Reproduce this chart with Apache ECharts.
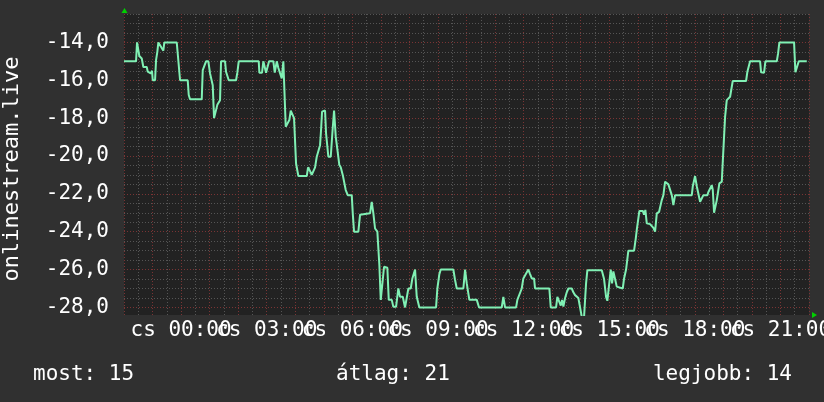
<!DOCTYPE html>
<html>
<head>
<meta charset="utf-8">
<script src="https://cdn.jsdelivr.net/npm/echarts@6.0.0/dist/echarts.min.js"></script>
<style>
  html, body { margin: 0; padding: 0; background: #303030; }
  #main { width: 824px; height: 402px; }
</style>
</head>
<body>
<div id="main"></div>
<script>
// hour of day (-1 = 23:00 the day before)
var times = [-1.0, -0.578, -0.543, -0.463, -0.378, -0.322, -0.263, -0.203, -0.168, -0.112,
  -0.063, -0.018, 0.007, 0.088, 0.123, 0.168, 0.203, 0.263, 0.322, 0.378,
  0.413, 0.848, 0.883, 0.939, 0.964, 1.233, 1.268, 1.314, 1.724, 1.759,
  1.815, 1.875, 1.955, 2.015, 2.074, 2.109, 2.155, 2.225, 2.270, 2.320,
  2.365, 2.400, 2.540, 2.575, 2.621, 2.670, 2.926, 2.971, 3.020, 3.721,
  3.742, 3.837, 3.882, 3.942, 3.977, 4.022, 4.082, 4.233, 4.282, 4.327,
  4.352, 4.408, 4.467, 4.527, 4.583, 4.632, 4.667, 4.737, 4.793, 4.842,
  4.912, 4.958, 5.028, 5.109, 5.403, 5.449, 5.519, 5.578, 5.634, 5.694,
  5.753, 5.809, 5.869, 5.904, 5.939, 6.044, 6.079, 6.160, 6.244, 6.300,
  6.360, 6.419, 6.475, 6.545, 6.594, 6.664, 6.720, 6.769, 6.840, 6.980,
  7.015, 7.060, 7.211, 7.271, 7.330, 7.621, 7.680, 7.737, 7.796, 7.877,
  7.947, 7.996, 8.066, 8.111, 8.227, 8.276, 8.381, 8.437, 8.532, 8.612,
  8.672, 8.767, 8.847, 8.907, 8.963, 9.047, 9.103, 9.198, 9.257, 9.348,
  9.933, 9.979, 10.049, 10.098, 10.540, 10.599, 10.659, 10.890, 10.950, 11.009,
  11.100, 11.360, 11.440, 12.235, 12.291, 12.351, 12.737, 12.782, 12.852, 12.936,
  12.992, 13.052, 13.167, 13.227, 13.287, 13.367, 13.402, 13.903, 13.952, 14.138,
  14.184, 14.254, 14.303, 14.349, 14.394, 14.454, 14.513, 14.569, 14.688, 14.744,
  14.804, 14.863, 14.919, 14.979, 15.039, 15.119, 15.189, 15.235, 15.739, 15.820,
  15.890, 15.935, 15.984, 16.054, 16.100, 16.145, 16.205, 16.265, 16.321, 16.475,
  16.521, 16.591, 16.671, 16.871, 16.931, 16.966, 17.057, 17.176, 17.222, 17.267,
  17.316, 17.432, 17.548, 17.607, 17.667, 17.748, 17.842, 17.898, 17.958, 18.017,
  18.073, 18.133, 18.192, 18.248, 18.308, 18.893, 18.928, 19.009, 19.068, 19.124,
  19.184, 19.243, 19.300, 19.440, 19.475, 19.534, 19.594, 19.629, 19.674, 19.734,
  19.769, 19.825, 19.860, 19.944, 19.979, 20.025, 20.060, 20.119, 20.175, 20.235,
  20.294, 20.329, 20.795, 20.841, 20.890, 20.936, 21.286, 21.321, 21.426, 21.472,
  21.871, 21.917, 21.962, 22.477, 22.523, 22.572, 22.642, 22.922];
var values = [-15.0, -15.0, -14.0, -14.72, -14.85, -15.3, -15.2, -15.3, -15.55, -15.45,
  -15.64, -15.5, -16.0, -16.0, -14.94, -14.5, -14.0, -14.0, -14.3, -14.44,
  -14.0, -14.0, -14.6, -14.7, -16.0, -16.0, -16.78, -17.0, -17.0, -15.46,
  -15.4, -15.0, -15.0, -15.64, -15.7, -16.26, -18.0, -18.0, -17.3, -17.2,
  -17.05, -15.0, -15.0, -15.55, -15.64, -16.0, -16.0, -15.6, -15.0, -15.0,
  -15.6, -15.6, -15.0, -15.0, -15.6, -15.6, -15.0, -15.0, -15.6, -15.6,
  -15.0, -15.35, -15.35, -15.9, -15.0, -15.0, -18.46, -18.37, -18.1, -17.6,
  -17.6, -18.0, -20.4, -21.06, -21.06, -20.6, -20.8, -21.0, -21.1, -20.6,
  -20.04, -20.04, -19.43, -18.63, -17.66, -17.6, -18.8, -20.04, -20.04, -18.8,
  -17.6, -18.98, -19.05, -20.48, -20.6, -21.0, -21.0, -21.8, -22.07, -22.07,
  -23.03, -24.0, -24.0, -23.1, -23.03, -23.03, -22.42, -23.03, -23.83, -24.0,
  -25.77, -27.6, -27.6, -25.85, -25.9, -27.6, -27.6, -27.97, -27.97, -27.0,
  -27.44, -27.44, -28.0, -28.0, -27.0, -27.0, -26.47, -26.0, -27.44, -28.0,
  -28.0, -27.0, -26.24, -26.0, -26.0, -26.55, -27.0, -27.0, -26.0, -26.73,
  -27.6, -27.6, -28.0, -28.0, -27.44, -28.0, -28.0, -27.6, -27.5, -27.0,
  -26.47, -26.4, -26.0, -26.24, -26.47, -26.47, -27.0, -27.0, -28.0, -28.0,
  -27.44, -27.44, -27.9, -27.6, -27.95, -27.5, -27.2, -27.0, -27.0, -27.2,
  -27.35, -27.35, -27.5, -27.44, -28.5, -28.5, -26.73, -26.03, -26.03, -26.5,
  -27.44, -27.65, -27.55, -26.0, -26.73, -26.1, -26.5, -26.9, -27.0, -27.0,
  -26.47, -26.0, -25.0, -25.0, -24.35, -23.9, -22.9, -22.9, -23.1, -22.85,
  -23.56, -23.6, -23.8, -24.0, -23.03, -22.95, -22.33, -22.07, -21.36, -21.27,
  -21.5, -21.6, -22.07, -22.6, -22.07, -22.07, -21.6, -21.06, -21.6, -21.6,
  -22.42, -22.35, -22.07, -22.07, -21.9, -21.8, -21.54, -21.8, -23.0, -23.0,
  -22.33, -22.3, -21.45, -21.36, -20.3, -20.3, -17.93, -17.05, -17.05, -16.87,
  -16.87, -16.04, -16.04, -15.55, -15.5, -15.0, -15.0, -15.58, -15.6, -15.0,
  -15.0, -14.58, -14.0, -14.0, -15.58, -15.55, -15.0, -15.0];

var xLabelPos = [1, 4, 7, 10, 13, 16, 19, 22];
var xLabels = ['cs 00:00', 'cs 03:00', 'cs 06:00', 'cs 09:00', 'cs 12:00', 'cs 15:00', 'cs 18:00', 'cs 21:00'];
var yMajorTicks = [-28, -26, -24, -22, -20, -18, -16, -14];
var yMinorTicks = [-28, -27.5, -27, -26.5, -26, -25.5, -25, -24.5, -24, -23.5, -23, -22.5,
  -22, -21.5, -21, -20.5, -20, -19.5, -19, -18.5, -18, -17.5, -17, -16.5,
  -16, -15.5, -15, -14.5, -14, -13.5, -13, -12.5];
var summary = ['most: 15', 'átlag: 21', 'legjobb: 14'];

var FONT = 'DejaVu Sans Mono';
var chart = echarts.init(document.getElementById('main'));

// the time labels overlap each other, so they are split over two axes
// (every other label) to keep ECharts from dropping any of them
function labelAxis(positions, withGrid) {
  return {
    type: 'value', position: 'bottom', offset: 0, min: -1, max: 23, interval: 1,
    axisLine: { show: false }, axisTick: { show: false },
    axisLabel: {
      show: true,
      customValues: positions,
      showMinLabel: true,
      showMaxLabel: true,
      hideOverlap: false,
      color: '#ffffff',
      fontFamily: FONT,
      fontSize: 21,
      margin: 5,
      formatter: function (v) {
        var i = xLabelPos.indexOf(v);
        return i >= 0 ? xLabels[i] : '';
      }
    },
    splitLine: { show: withGrid, lineStyle: { color: '#7a3434', type: [1, 2], width: 1 } }
  };
}

var option = {
  backgroundColor: '#303030',
  animation: false,
  grid: {
    left: 124, right: 15, top: 14, bottom: 87,
    containLabel: false,
    outerBoundsMode: 'none',
    show: true,
    backgroundColor: '#222222',
    borderWidth: 0
  },
  xAxis: [{
    type: 'value', position: 'top', min: -1, max: 23, interval: 0.5,
    axisLine: { show: false }, axisTick: { show: false }, axisLabel: { show: false },
    splitLine: { show: true, lineStyle: { color: '#555555', type: [1, 2], width: 1 } }
  },
    labelAxis(xLabelPos.filter(function (p, i) { return i % 2 === 0; }), true),
    labelAxis(xLabelPos.filter(function (p, i) { return i % 2 === 1; }), false)
  ],
  yAxis: [{
    type: 'value', position: 'right', min: -28.4, max: -12.5,
    axisLine: { show: false }, axisLabel: { show: false },
    axisTick: { show: false, customValues: yMinorTicks },
    splitLine: { show: true, lineStyle: { color: '#555555', type: [1, 2], width: 1 } }
  }, {
    type: 'value', position: 'left', min: -28.4, max: -12.5,
    axisLine: { show: false },
    axisTick: { show: false, customValues: yMajorTicks },
    axisLabel: {
      show: true,
      customValues: yMajorTicks,
      showMinLabel: true,
      showMaxLabel: true,
      color: '#ffffff',
      fontFamily: FONT,
      fontSize: 21,
      margin: 15,
      formatter: function (v) { return v.toFixed(1).replace('.', ','); }
    },
    splitLine: { show: true, lineStyle: { color: '#7a3434', type: [1, 2], width: 1 } }
  }],
  series: [{
    type: 'line',
    xAxisIndex: 0,
    yAxisIndex: 0,
    data: times.map(function (t, i) { return [t, values[i]]; }),
    showSymbol: false,
    clip: true,
    lineStyle: { color: '#80f0b4', width: 2 },
    z: 5
  }],
  graphic: [
    {
      type: 'text', x: 12, y: 169, rotation: Math.PI / 2,
      style: { text: 'onlinestream.live', fill: '#ffffff', font: '22px "DejaVu Sans Mono"', align: 'center', verticalAlign: 'middle' }
    },
    { type: 'text', x: 33, y: 375, style: { text: summary[0], fill: '#ffffff', font: '21px "DejaVu Sans Mono"', align: 'left', verticalAlign: 'middle' } },
    { type: 'text', x: 336, y: 375, style: { text: summary[1], fill: '#ffffff', font: '21px "DejaVu Sans Mono"', align: 'left', verticalAlign: 'middle' } },
    { type: 'text', x: 792, y: 375, style: { text: summary[2], fill: '#ffffff', font: '21px "DejaVu Sans Mono"', align: 'right', verticalAlign: 'middle' } },
    // axis arrows
    { type: 'polygon', shape: { points: [[121.5, 13], [127.5, 13], [124.5, 8]] }, style: { fill: '#00d000' }, z: 10 },
    { type: 'polygon', shape: { points: [[812, 312], [812, 318], [817, 315]] }, style: { fill: '#00d000' }, z: 10 }
  ]
};

chart.setOption(option);
window.addEventListener('resize', function () { chart.resize(); });
</script>
</body>
</html>
